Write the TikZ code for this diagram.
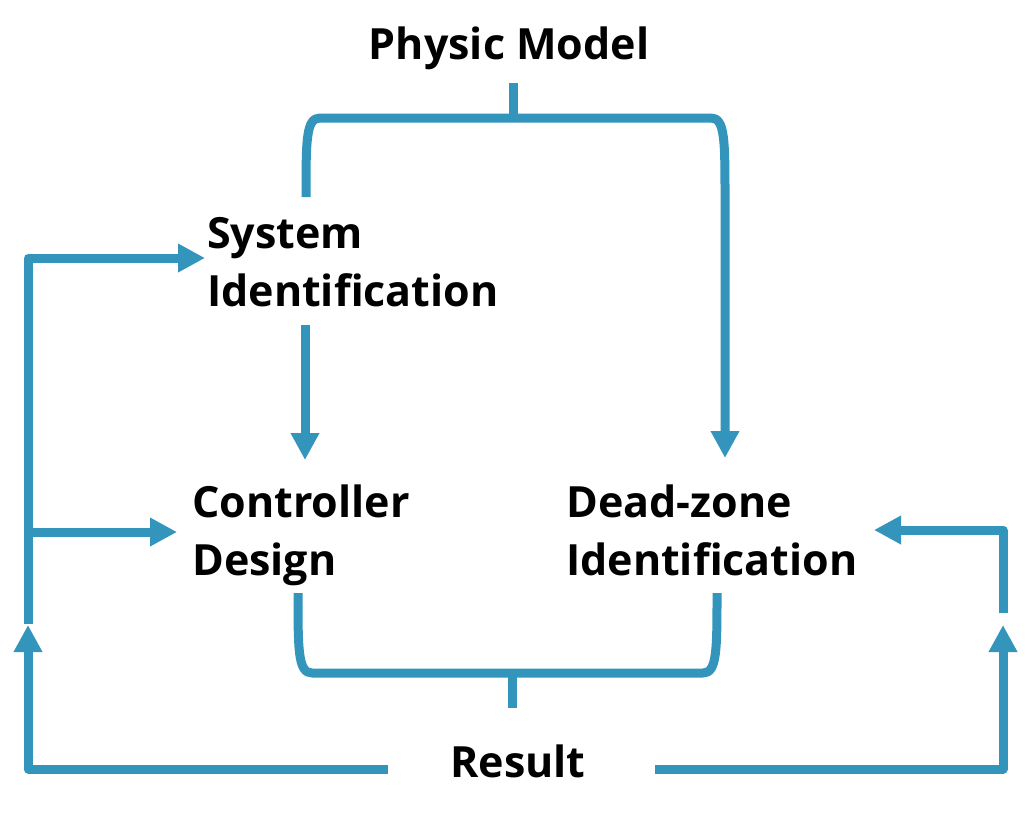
\documentclass[tikz,border=0pt]{standalone}
\usepackage{fontspec}
\setmainfont{Open Sans}
\usetikzlibrary{arrows.meta}
\definecolor{lc}{RGB}{51,149,187}
\begin{document}
\begin{tikzpicture}[x=1pt,y=-1pt,
  conn/.style={draw=lc, line width=9pt, line join=round},
  arr/.style={conn, -{Triangle[width=27pt,length=27pt]}},
  lbl/.style={font=\fontsize{43}{58}\selectfont\bfseries, anchor=base west, inner sep=0pt, align=left}]
\useasboundingbox[fill=white] (0,0) rectangle (1032,823);
% labels (base = baseline of last line)
\node[lbl, anchor=base] (pm) at (509,59) {Physic Model};
\node[lbl] (si) at (207,306) {System\\Identification};
\node[lbl] (cd) at (192,575) {Controller\\Design};
\node[lbl] (dz) at (566,575) {Dead-zone\\Identification};
\node[lbl, anchor=base] (res) at (518,777) {Result};
% coordinates
\coordinate (pmstub) at (513,83);
\coordinate (tl) at (306,197);
\coordinate (dztop) at (725,458);
\coordinate (sibot) at (305,325);
\coordinate (cdtop) at (305,460);
\coordinate (cdbot) at (298,593);
\coordinate (dzbot) at (717,593);
\coordinate (resstub) at (512,708);
\coordinate (resl) at (388,769);
\coordinate (resr) at (655,769);
\coordinate (siin) at (205,258);
\coordinate (cdin) at (177,532);
\coordinate (dzin) at (874,530);
% top bracket
\draw[conn] (pmstub) -- (513,118);
\draw[arr] (tl) .. controls (306,140) and (306,118) .. (320,118) -- (711,118)
  .. controls (725,118) and (725,140) .. (725,200) -- (dztop);
% SI -> CD
\draw[arr] (sibot) -- (cdtop);
% bottom bracket
\draw[conn] (cdbot) .. controls (298,650) and (298,673) .. (312,673) -- (703,673)
  .. controls (717,673) and (717,650) .. (dzbot);
\draw[conn] (512,673) -- (resstub);
% left loop
\draw[arr] (resl) -- (28,769) -- (28,625);
\draw[arr] (28,624) |- (cdin);
\draw[arr] (28,536) |- (siin);
% right loop
\draw[arr] (resr) -- (1003,769) -- (1003,625);
\draw[arr] (1003,613) |- (dzin);
\end{tikzpicture}
\end{document}
